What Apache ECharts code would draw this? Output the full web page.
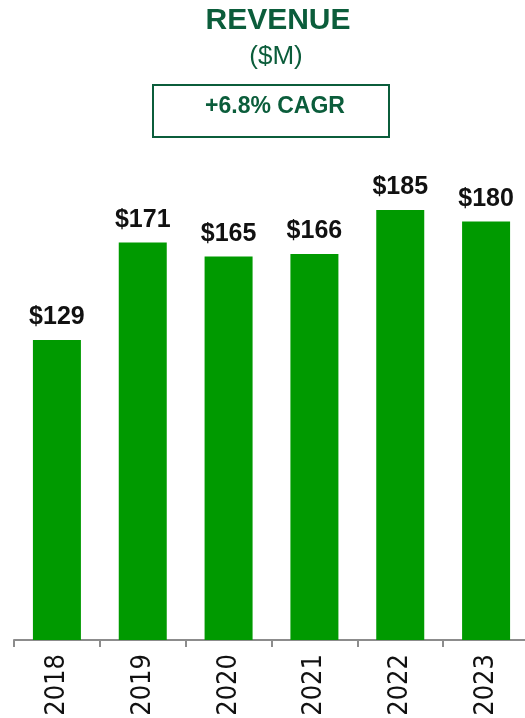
<!DOCTYPE html>
<html lang="en">
<head>
  <meta charset="UTF-8">
  <title>Revenue</title>
  <style>
    body { margin: 0; padding: 0; background: #fff; }
    #chart { width: 525px; height: 718px; }
  </style>
  <script src="https://cdn.jsdelivr.net/npm/echarts@6/dist/echarts.min.js"></script>
</head>
<body>
  <div id="chart"></div>
  <script>
    // chart data
    const years = ['2018', '2019', '2020', '2021', '2022', '2023'];
    const revenue = [129, 171, 165, 166, 185, 180];
    const cagrText = '+6.8% CAGR';

    const darkGreen = '#0b5d3b';
    const barGreen = '#009a00';
    const font = '"Liberation Sans", Arial, sans-serif';

    let chart = echarts.init(document.getElementById('chart'));
    chart.setOption({
      animation: false,
      grid: { left: 14, right: -4, top: 175, bottom: 78, containLabel: false, outerBoundsMode: 'none' },
      graphic: [
        {
          type: 'text', x: 278, y: 21,
          style: { text: 'REVENUE', fontSize: 30, fontWeight: 'bold', fontFamily: font,
                   fill: darkGreen, textAlign: 'center', textVerticalAlign: 'middle' }
        },
        {
          type: 'text', x: 276, y: 57,
          style: { text: '($M)', fontSize: 26, fontFamily: font,
                   fill: darkGreen, textAlign: 'center', textVerticalAlign: 'middle' }
        },
        {
          type: 'rect',
          shape: { x: 153, y: 85, width: 236, height: 52 },
          style: { fill: '#fff', stroke: darkGreen, lineWidth: 2 }
        },
        {
          type: 'text', x: 275, y: 107,
          style: { text: cagrText, fontSize: 23, fontWeight: 'bold', fontFamily: font,
                   fill: darkGreen, textAlign: 'center', textVerticalAlign: 'middle' }
        }
      ],
      xAxis: {
        type: 'category',
        data: years,
        axisLine: { lineStyle: { color: '#8c8c8c', width: 2 } },
        axisTick: { show: true, length: 7, lineStyle: { color: '#8c8c8c', width: 2 } },
        axisLabel: {
          rotate: 90, margin: 14, color: '#111',
          fontSize: 27, fontFamily: '"DejaVu Sans Condensed", "Liberation Sans", sans-serif'
        }
      },
      yAxis: {
        type: 'value', min: 0, max: 200, show: false,
        splitLine: { show: false }
      },
      series: [{
        type: 'bar',
        data: revenue,
        barWidth: 48,
        itemStyle: { color: barGreen },
        label: {
          show: true, position: 'top', distance: 10,
          formatter: p => '$' + p.value,
          color: '#111', fontSize: 25, fontWeight: 'bold', fontFamily: font
        }
      }]
    });
  </script>
</body>
</html>
